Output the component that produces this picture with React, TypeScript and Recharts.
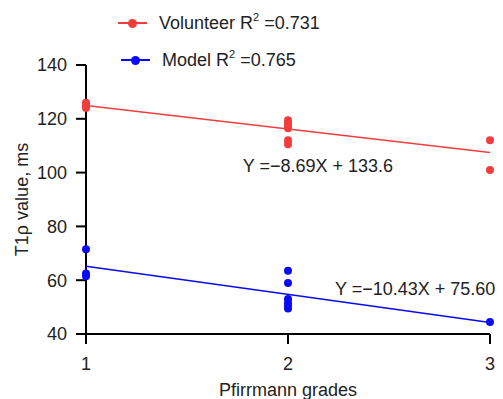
import { ScatterChart, Scatter, XAxis, YAxis, ReferenceDot } from 'recharts';

const grades = [1, 2, 3];
const volunteerValues = [
  [126, 125.5, 125, 124.5, 124],
  [119.5, 118.5, 117.5, 116.5, 112, 110.5],
  [112, 101],
];
const modelValues = [
  [71.5, 62.5, 61.5],
  [63.5, 59, 53, 51.5, 50.5, 49.5],
  [44.5],
];
const fitGrades = [1, 3];
const volunteerFit = [124.9, 107.5];
const modelFit = [65.2, 44.3];
const yTicks = [40, 60, 80, 100, 120, 140];

const RED = '#f23d3d';
const BLUE = '#0a0af5';
const TEXT = '#222';
const FONT = '"Liberation Sans", Arial, Helvetica, sans-serif';

const toPoints = (groups: number[][]) =>
  groups.flatMap((vals, i) => vals.map((y) => ({ x: grades[i], y })));
const toFit = (vals: number[]) => fitGrades.map((x, i) => ({ x, y: vals[i] }));

const volunteerPts = toPoints(volunteerValues);
const modelPts = toPoints(modelValues);

const dot = (color: string) => (p: any) => <circle cx={p.cx} cy={p.cy} r={4} fill={color} />;
const noDot = () => <g />;

function LegendRow({ top, left, color, label, r2 }: { top: number; left: number; color: string; label: string; r2: string }) {
  return (
    <div style={{ position: 'absolute', top, left, height: 0 }}>
      <div style={{ position: 'absolute', left: 0, top: -1, width: 29, height: 2, background: color }} />
      <div style={{ position: 'absolute', left: 10, top: -4.5, width: 9, height: 9, borderRadius: '50%', background: color }} />
      <div style={{ position: 'absolute', left: 41, top: -12, whiteSpace: 'nowrap', fontSize: 18, lineHeight: '24px', color: TEXT }}>
        {label} R<sup style={{ fontSize: 11, verticalAlign: 0, position: 'relative', top: -8 }}>2</sup> ={r2}
      </div>
    </div>
  );
}

export default function App() {
  const axisStyle = { stroke: '#000', strokeWidth: 2 };
  const tickStyle = { fontSize: 18, fill: TEXT, fontFamily: FONT };
  return (
    <div style={{ position: 'absolute', left: 0, top: 0, width: 503, height: 399, background: '#fff', fontFamily: FONT }}>
      <ScatterChart width={503} height={399} margin={{ top: 65, right: 13, bottom: 0, left: 0 }}>
        <XAxis
          dataKey="x"
          type="number"
          domain={[1, 3]}
          ticks={grades}
          axisLine={axisStyle}
          tickLine={axisStyle}
          tickSize={10}
          tickMargin={13}
          height={65}
          tick={tickStyle}
          label={{ value: 'Pfirrmann grades', position: 'insideBottom', offset: 3, fontSize: 18, fill: TEXT, fontFamily: FONT }}
        />
        <YAxis
          dataKey="y"
          type="number"
          domain={[40, 140]}
          ticks={yTicks}
          axisLine={axisStyle}
          tickLine={axisStyle}
          tickSize={10}
          tickMargin={9}
          width={86}
          tick={tickStyle}
          label={{ value: 'T1ρ value, ms', angle: -90, position: 'center', dx: -21, fontSize: 18, fill: TEXT, fontFamily: FONT }}
        />
        <Scatter data={toFit(volunteerFit)} line={{ stroke: RED, strokeWidth: 1.5 }} shape={noDot} isAnimationActive={false} />
        <Scatter data={toFit(modelFit)} line={{ stroke: BLUE, strokeWidth: 1.5 }} shape={noDot} isAnimationActive={false} />
        <Scatter data={volunteerPts} fill={RED} shape={dot(RED)} isAnimationActive={false} />
        <Scatter data={modelPts} fill={BLUE} shape={dot(BLUE)} isAnimationActive={false} />
        <ReferenceDot
          x={1.776}
          y={102.7}
          r={0}
          stroke="none"
          label={{ value: 'Y =−8.69X + 133.6', position: 'right', offset: 0, fontSize: 18, fill: TEXT, fontFamily: FONT }}
        />
        <ReferenceDot
          x={2.233}
          y={56.9}
          r={0}
          stroke="none"
          label={{ value: 'Y =−10.43X + 75.60', position: 'right', offset: 0, fontSize: 18, fill: TEXT, fontFamily: FONT }}
        />
      </ScatterChart>
      <LegendRow top={23} left={118} color={RED} label="Volunteer" r2="0.731" />
      <LegendRow top={60} left={121} color={BLUE} label="Model" r2="0.765" />
    </div>
  );
}
